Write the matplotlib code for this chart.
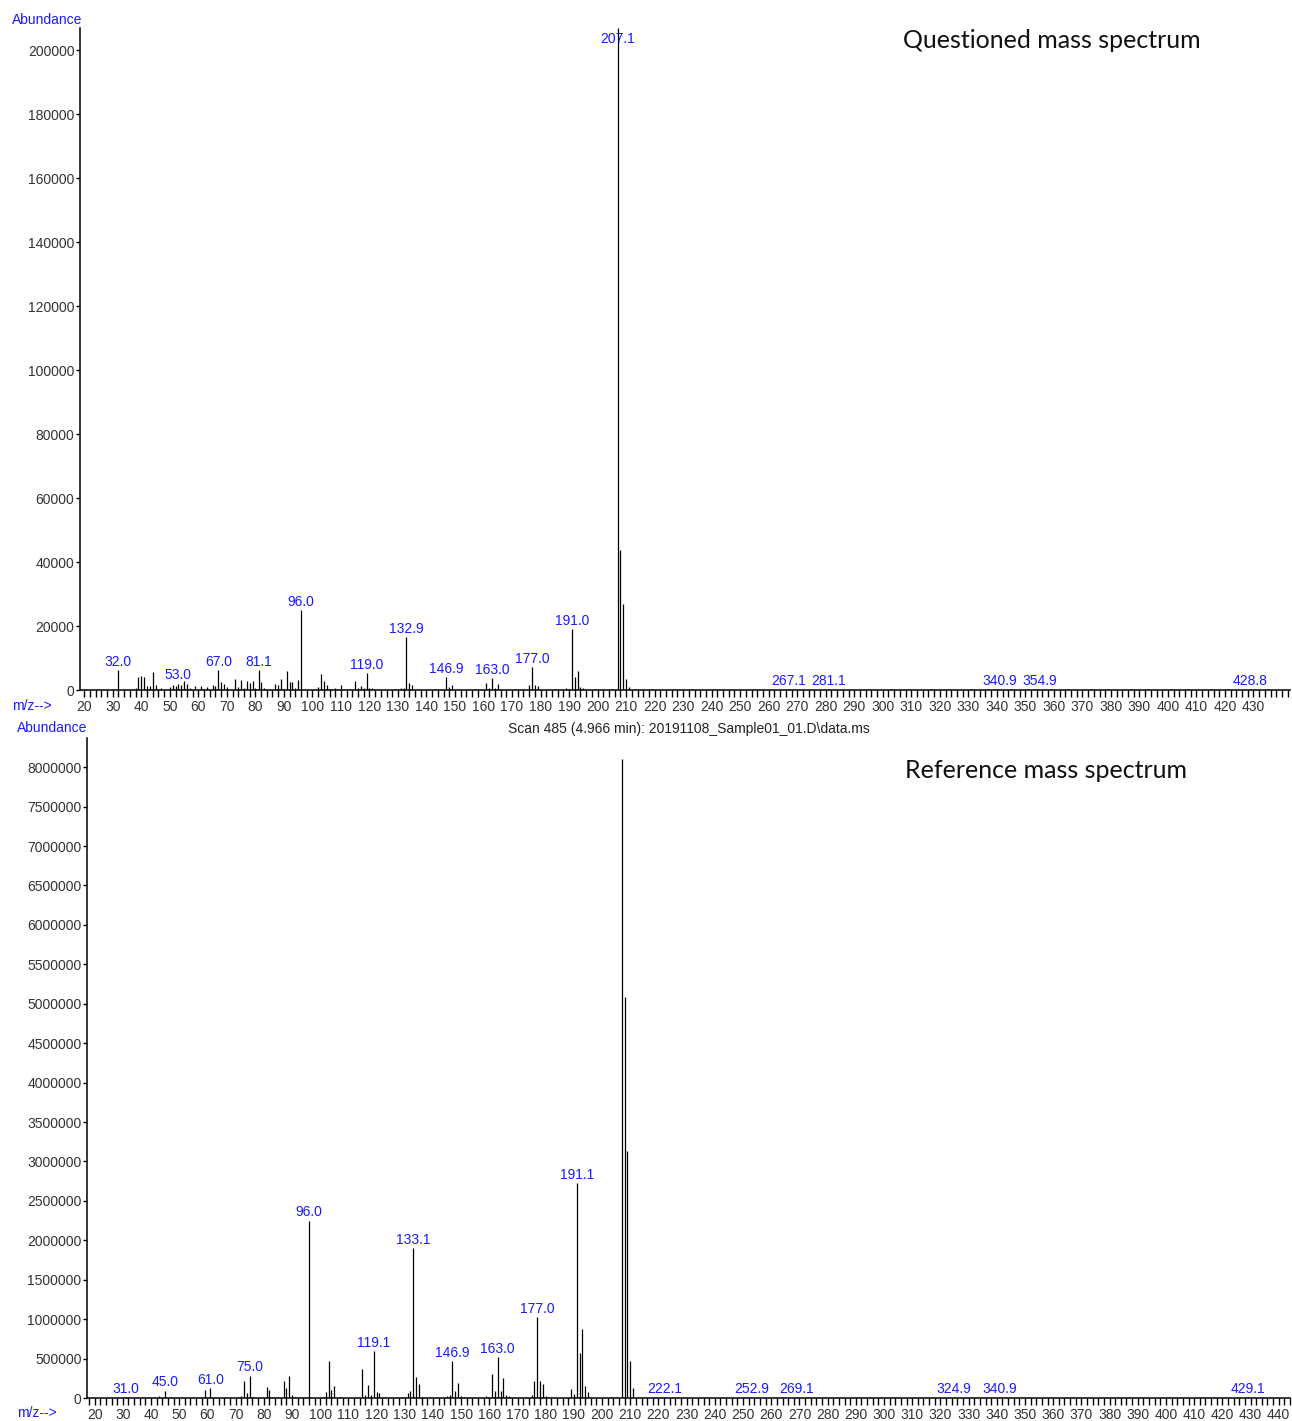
import numpy as np
import matplotlib
matplotlib.use("Agg")
import matplotlib.pyplot as plt
from matplotlib.ticker import MultipleLocator

plt.rcParams['font.family'] = ['Liberation Sans', 'DejaVu Sans']

# questioned sample: m/z and abundance
q_mz = [31.9, 38, 39, 40, 41, 42, 43, 44, 45, 46, 47, 50, 51, 52, 53.0, 54, 55, 56, 57,
        59, 61, 62, 63, 65, 66, 67.0, 68, 69, 70, 73, 74, 75, 76, 77, 78, 79, 80, 81.1,
        82, 83, 87, 88, 89, 90, 91, 92, 93, 94, 95, 96.0, 102, 103, 104, 105, 106, 108,
        110, 112, 115, 116, 117, 118, 119.0, 120, 121, 131, 132, 132.9, 134, 135, 146.9,
        148, 149, 161, 162, 163.0, 164, 165, 176, 177.0, 178, 179, 189, 190, 191.0, 192,
        193, 194, 195, 207.1, 208, 209, 210, 211, 267.1, 281.1, 340.9, 354.9, 428.8]
q_ab = [6250, 600, 4060, 4375, 4170, 1350, 1350, 5625, 1560, 300, 500, 940, 1560, 1150, 1980,
        1670, 2810, 1875, 730, 1150, 1150, 400, 830, 1560, 1350, 6250, 2600, 1875, 940, 3440,
        940, 3125, 730, 2810, 2190, 2920, 730, 6250, 2600, 730, 1875, 1560, 3540, 400, 6040,
        2600, 2600, 730, 3230, 25000, 940, 5000, 2920, 1560, 300, 500, 1560, 300, 2920, 730,
        1250, 500, 5310, 600, 600, 600, 600, 16560, 2190, 1560, 4060, 940, 1560, 2190, 730,
        3850, 730, 1875, 1560, 7190, 1560, 1250, 500, 300, 18960, 4060, 5940, 940, 730,
        206900, 43750, 27000, 3440, 940, 300, 300, 300, 300, 300]
q_labels = [32.0, 53.0, 67.0, 81.1, 96.0, 119.0, 132.9, 146.9, 163.0, 177.0, 191.0, 207.1,
            267.1, 281.1, 340.9, 354.9, 428.8]
q_label_x = {32.0: 31.9}

# library reference spectrum
r_mz = [31.0, 43, 45.0, 47, 58, 59, 61.0, 66, 71, 72, 73, 74, 75.0, 76, 77, 81, 82, 83, 85,
        87, 88, 89, 90, 91, 96.0, 101, 102, 103, 104, 105, 106, 107, 115, 116, 117, 118,
        119.1, 120, 121, 129, 131, 132, 133.1, 134, 135, 136, 145, 146, 146.9, 148, 149,
        150, 151, 159, 161, 162, 163.0, 164, 165, 166, 167, 175, 176, 177.0, 178, 179, 180,
        189, 190, 191.1, 192, 193, 194, 195, 203, 205, 207, 208, 209, 210, 211, 222.1,
        252.9, 269.1, 324.9, 340.9, 429.1]
r_ab = [8000, 25000, 93000, 17000, 17000, 106000, 131000, 17000, 17000, 30000, 212000, 68000,
        284000, 17000, 17000, 144000, 106000, 17000, 17000, 220000, 131000, 284000, 38000,
        17000, 2250000, 17000, 72000, 470000, 97000, 148000, 17000, 12000, 365000, 42000,
        161000, 34000, 594000, 76000, 59000, 10000, 59000, 89000, 1900000, 263000, 174000,
        12000, 21000, 34000, 466000, 85000, 187000, 21000, 10000, 21000, 301000, 89000,
        517000, 89000, 250000, 34000, 21000, 34000, 216000, 1030000, 216000, 174000, 21000,
        110000, 47000, 2730000, 568000, 870000, 148000, 76000, 10000, 10000, 8110000,
        5080000, 3130000, 475000, 130000, 8000, 8000, 8000, 8000, 8000, 8000]
r_labels = [31.0, 45.0, 61.0, 75.0, 96.0, 119.1, 133.1, 146.9, 163.0, 177.0, 191.1, 222.1,
            252.9, 269.1, 324.9, 340.9, 429.1]

BLUE = '#1a1aff'
GREY = '#333333'

fig = plt.figure(figsize=(12.92, 14.21), dpi=100)


def spectrum(rect, mz, ab, labels, xlim, ylim, ystep, xlabels, title, title_y):
    ax = fig.add_axes(rect)
    ax.vlines(mz, 0, ab, color='black', lw=0.9)
    ax.set_xlim(*xlim)
    ax.set_ylim(*ylim)
    for s in ('top', 'right'):
        ax.spines[s].set_visible(False)
    for s in ('left', 'bottom'):
        ax.spines[s].set_linewidth(1.1)
    ax.set_xticks(xlabels)
    ax.xaxis.set_minor_locator(MultipleLocator(2))
    ax.set_yticks(np.arange(0, ylim[1], ystep))
    ax.ticklabel_format(axis='y', style='plain')
    ax.tick_params(axis='x', which='both', direction='out', length=5, width=1,
                   labelsize=10, labelcolor=GREY, pad=2)
    ax.tick_params(axis='y', direction='out', length=3, width=1,
                   labelsize=10, labelcolor=GREY, pad=1)
    lookup = dict(zip(mz, ab))
    for lab in labels:
        x = q_label_x.get(lab, lab) if mz is q_mz else lab
        h = lookup[x]
        if h >= ylim[1] * 0.98:
            ax.annotate(f"{lab:.1f}", (x, ylim[1]), xytext=(0, -3),
                        textcoords='offset points', ha='center', va='top',
                        color=BLUE, fontsize=10)
        else:
            ax.annotate(f"{lab:.1f}", (x, h), xytext=(0, 3),
                        textcoords='offset points', ha='center', va='baseline',
                        color=BLUE, fontsize=10)
    ax.text(0.68, title_y, title, transform=ax.transAxes,
            ha='left', va='center', fontsize=18, family=['Lato', 'DejaVu Sans'],
            color='#111111')
    return ax


W, H = 1292, 1421
top = spectrum([80 / W, 1 - 690 / H, 1210 / W, 662 / H], q_mz, q_ab, q_labels,
               (18.5, 442.8), (0, 206900), 20000, list(range(20, 440, 10)),
               'Questioned mass spectrum', 0.981)
bot = spectrum([87 / W, 1 - 1398 / H, 1203 / W, 660 / H], r_mz, r_ab, r_labels,
               (17.3, 444.0), (0, 8370000), 500000, list(range(20, 450, 10)),
               'Reference mass spectrum', 0.950)

fig.text(12 / W, 1 - 20 / H, 'Abundance', color=BLUE, fontsize=10, va='center', ha='left')
fig.text(12 / W, 1 - 706 / H, 'm/z-->', color=BLUE, fontsize=10, va='center', ha='left')
fig.text(17 / W, 1 - 728 / H, 'Abundance', color=BLUE, fontsize=10, va='center', ha='left')
fig.text(17 / W, 1 - 1413 / H, 'm/z-->', color=BLUE, fontsize=10, va='center', ha='left')
fig.text(689 / W, 1 - 729 / H, 'Scan 485 (4.966 min): 20191108_Sample01_01.D\\data.ms',
         color='#222222', fontsize=10, va='center', ha='center')

fig.savefig('out.png', dpi=100)
